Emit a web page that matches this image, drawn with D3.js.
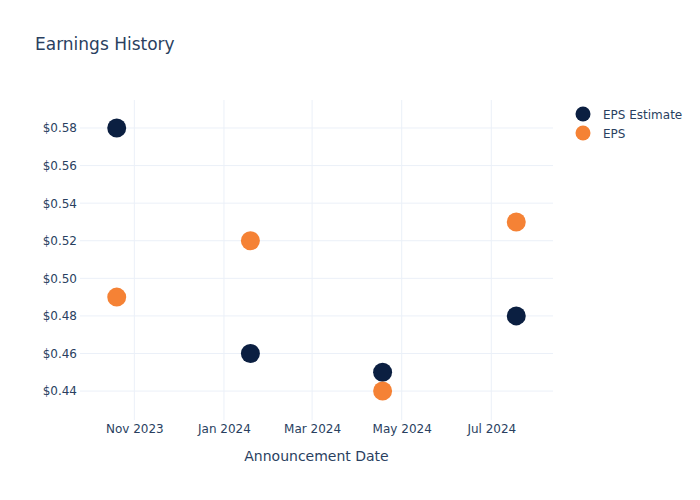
<!DOCTYPE html>
<html><head><meta charset="utf-8">
<script src="https://cdn.jsdelivr.net/npm/d3@7"></script>
<style>body{margin:0;background:#fff}svg{font-family:"DejaVu Sans",Verdana,sans-serif}</style>
</head><body><svg id="c" width="700" height="500"></svg>
<script>
const dates = ["2023-10-20","2024-01-19","2024-04-18","2024-07-18"];
const epsEstimate = [0.58, 0.46, 0.45, 0.48];
const eps = [0.49, 0.52, 0.44, 0.53];
const yTicks = [0.44,0.46,0.48,0.50,0.52,0.54,0.56,0.58];
const xTicks = ["2023-11-01","2024-01-01","2024-03-01","2024-05-01","2024-07-01"];
const seriesNames = ["EPS Estimate","EPS"];
const colors = ["#0b1f41","#f58235"];

const parse = d3.utcParse("%Y-%m-%d");
const svg = d3.select("#c");
const L=80,R=553,T=100,B=420;
const x = d3.scaleUtc().domain([parse("2023-09-25"), parse("2024-08-12")]).range([L,R]);
const y = d3.scaleLinear().domain([0.4246,0.5949]).range([B,T]);
const txt="#2a3f5f", grid="#ebf0f8";

svg.append("text").attr("x",35).attr("y",50).attr("font-size",17).attr("fill",txt).text("Earnings History");

const g = svg.append("g");
g.selectAll(".yg").data(yTicks).join("line").attr("x1",L).attr("x2",R)
 .attr("y1",d=>y(d)).attr("y2",d=>y(d)).attr("stroke",grid).attr("stroke-width",1);
g.selectAll(".xg").data(xTicks).join("line").attr("y1",T).attr("y2",B)
 .attr("x1",d=>x(parse(d))).attr("x2",d=>x(parse(d))).attr("stroke",grid).attr("stroke-width",1);

const yAxis = d3.axisLeft(y).tickValues(yTicks).tickFormat(d=>"$"+d3.format(".2f")(d)).tickSize(0).tickPadding(3);
const ya = svg.append("g").attr("transform",`translate(${L},0)`).call(yAxis);
ya.select(".domain").remove();
ya.selectAll("text").attr("font-size",12).attr("fill",txt).attr("font-family","DejaVu Sans, sans-serif");

const xAxis = d3.axisBottom(x).tickValues(xTicks.map(parse)).tickFormat(d3.utcFormat("%b %Y")).tickSize(0).tickPadding(4);
const xa = svg.append("g").attr("transform",`translate(0,${B})`).call(xAxis);
xa.select(".domain").remove();
xa.selectAll("text").attr("font-size",12).attr("fill",txt).attr("font-family","DejaVu Sans, sans-serif");

svg.append("text").attr("x",(L+R)/2).attr("y",461).attr("text-anchor","middle")
 .attr("font-size",14).attr("fill",txt).text("Announcement Date");

[epsEstimate, eps].forEach((vals,i)=>{
  svg.append("g").selectAll("circle").data(vals).join("circle")
   .attr("cx",(d,j)=>x(parse(dates[j]))).attr("cy",d=>y(d)).attr("r",9.5).attr("fill",colors[i]);
});

const lg = svg.append("g");
seriesNames.forEach((n,i)=>{
  lg.append("circle").attr("cx",583).attr("cy",114+i*19).attr("r",7.5).attr("fill",colors[i]);
  lg.append("text").attr("x",603).attr("y",118.5+i*19).attr("font-size",12).attr("fill",txt).text(n);
});
</script></body></html>
